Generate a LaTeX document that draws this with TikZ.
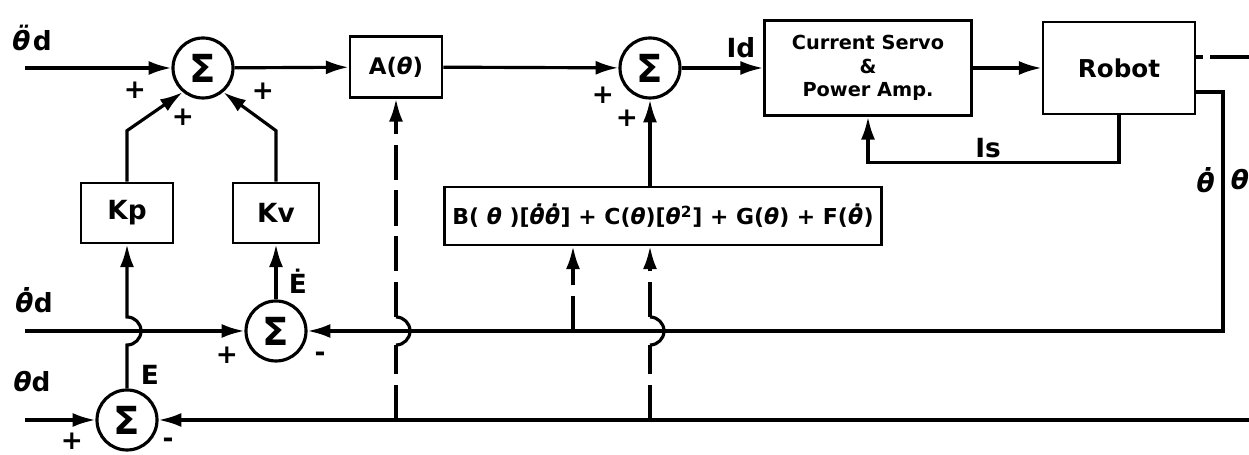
\documentclass[tikz,border=0pt]{standalone}
\usepackage{amsmath,amssymb}
\usepackage{fontspec}
\setmainfont{DejaVu Sans}
\usetikzlibrary{arrows.meta,calc}
\newcommand{\thb}{\textit{θ}}
\newcommand{\thdot}{\textit{θ̇}}
\newcommand{\thddot}{\textit{θ̈}}

\begin{document}
\begin{tikzpicture}[x=0.02cm,y=0.02cm,line width=1.8pt,
  >={Latex[length=13pt,width=8pt]},
  block/.style={draw,line width=1.5pt,inner sep=0pt,align=center,
    font=\bfseries\fontsize{13}{14}\selectfont},
  sumnode/.style={draw,circle,minimum size=1.2cm,inner sep=0pt,
    font=\bfseries\fontsize{22}{22}\selectfont},
  sig/.style={font=\bfseries\fontsize{15}{15}\selectfont},
  sgn/.style={font=\bfseries\fontsize{15}{15}\selectfont},
  dashline/.style={dash pattern=on 20pt off 6pt}]
  \useasboundingbox (0,0) rectangle (1249,-455);

  % summing junctions
  \node[sumnode] (s1) at (203,-68) {Σ};
  \node[sumnode] (s2) at (650,-68) {Σ};
  \node[sumnode] (s3) at (276,-331) {Σ};
  \node[sumnode] (s4) at (127,-420) {Σ};

  % blocks
  \node[block,minimum width=1.84cm,minimum height=1.22cm] (amat) at (396,-67) {A(\thb)};
  \node[block,minimum width=4.14cm,minimum height=1.9cm,font=\bfseries\fontsize{11}{13.5}\selectfont] (servo) at (868,-68) {Current Servo\\\&\\Power Amp.};
  \node[block,minimum width=3.04cm,minimum height=1.84cm,font=\bfseries\fontsize{14}{14}\selectfont] (robot) at (1119,-68) {Robot};
  \node[block,minimum width=1.84cm,minimum height=1.2cm,font=\bfseries\fontsize{15}{15}\selectfont] (kp) at (127,-213) {Kp};
  \node[block,minimum width=1.72cm,minimum height=1.2cm,font=\bfseries\fontsize{15}{15}\selectfont] (kv) at (276,-213) {Kv};
  \node[block,minimum width=8.74cm,minimum height=1.16cm,font=\bfseries\fontsize{12.5}{13}\selectfont] (bterm) at (663,-216)
    {B( \thb\ )[\thdot\thdot] + C(\thb)[\thb$^{\text{2}}$] + G(\thb) + F(\thdot)};

  % inputs and outputs
  \coordinate (in2) at (25,-68);
  \coordinate (in1) at (25,-331);
  \coordinate (in0) at (25,-420);
  \coordinate (thout) at (1249,-57);
  \coordinate (thin) at (1249,-420);
  \coordinate (fbk) at (1223,-92);
  \coordinate (dth) at (573,-331);
  % jump points where lines cross the theta-dot line
  \coordinate (ja) at ($(amat.south |- in1)+(0,-14)$);
  \coordinate (jb) at ($(s2 |- in1)+(0,-14)$);
  \coordinate (jc) at ($(s4.north |- in1)+(0,-14)$);

  % labels
  \node[sig] (l2) at (32,-38) {\thddot d};
  \node[sig] (l1) at (34,-300) {\thdot d};
  \node[sig] (l0) at (32,-382) {\thb d};
  \node[sig] (lid) at (741,-48) {Id};
  \node[sig] (lis) at (988,-148) {Is};
  \node[sig] (le) at (150,-375) {E};
  \node[sig] (led) at (298,-281) {Ė};
  \node[sig] (lthd) at (1206,-180) {\thdot};
  \node[sig] (lth) at (1240,-180) {\thb};

  % signs
  \node[sgn] at (135,-90) {+};
  \node[sgn] at (183,-117) {+};
  \node[sgn] at (263,-91) {+};
  \node[sgn] at (603,-95) {+};
  \node[sgn] at (627,-118) {+};
  \node[sgn] at (227,-355) {+};
  \node[sgn] at (320,-357) {-};
  \node[sgn] at (72,-441) {+};
  \node[sgn] at (168,-443) {-};

  % forward path
  \draw[->] (in2) -- (s1);
  \draw[->] (s1) -- (amat);
  \draw[->] (amat) -- (s2);
  \draw[->] (s2) -- (servo);
  \draw[->] (servo) -- (robot);
  \draw[->] (kp.north) -- ++(0,51) -- (s1.230);
  \draw[->] (kv.north) -- ++(0,51) -- (s1.310);
  \draw[->] (bterm.north -| s2) -- (s2);
  \draw[->] (robot.south) -- ++(0,-47) -| (servo.south);

  % feedback
  \draw[dash pattern=on 4pt off 4pt on 40pt] (robot.east |- thout) -- (thout);
  \draw[->] (robot.east |- fbk) -- (fbk) |- (s3);
  \draw[->] (thin) -- (s4);
  \draw[->] (in1) -- (s3);
  \draw[->] (in0) -- (s4);
  \draw[->] (s3) -- (kv);
  \draw[->] (s4.north) -- (jc) arc (-90:90:14) -- (kp.south);

  % dashed measurements
  \draw[dashline] (amat.south |- thin) -- (ja);
  \draw (ja) arc (-90:90:14);
  \draw[dashline,->] ($(ja)+(0,28)$) -- (amat.south);
  \draw[dashline] (s2 |- thin) -- (jb);
  \draw (jb) arc (-90:90:14);
  \draw[dashline,->] ($(jb)+(0,28)$) -- (bterm.south -| s2);
  \draw[dashline,->] (dth) -- (dth |- bterm.south);
\end{tikzpicture}
\end{document}
